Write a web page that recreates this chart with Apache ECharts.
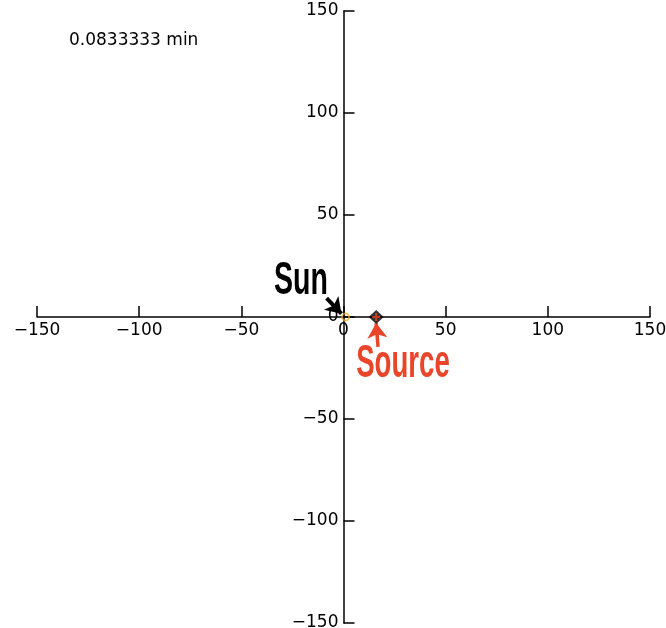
<!DOCTYPE html>
<html>
<head>
<meta charset="utf-8">
<script src="https://cdn.jsdelivr.net/npm/echarts@6/dist/echarts.min.js"></script>
<style>html,body{margin:0;padding:0;background:#fff}#c{width:666px;height:628px}</style>
</head>
<body>
<div id="c"></div>
<script>
var timeLabel = '0.0833333 min';
var sunPos = [1, 0];
var sourcePos = [16, 0];
var sunArrow = [[-8.3, 9.3], [-1.0, 1.6]];
var sourceArrow = [[16.9, -14.7], [16.0, -3.0]];
var sunLabelPos = [-20.8, 17.6];
var sourceLabelPos = [29.1, -23];
var axisMin = -150, axisMax = 150, axisStep = 50;

var gridL = 37, gridR = 16, gridT = 11, gridB = 5, W = 666, H = 628;
var gw = W - gridL - gridR, gh = H - gridT - gridB;
var zeroX = gridL + gw * (0 - axisMin) / (axisMax - axisMin);
var zeroY = gridT + gh * (axisMax - 0) / (axisMax - axisMin);

var chart = echarts.init(document.getElementById('c'));
function axisCommon() {
  return {
    type: 'value', min: axisMin, max: axisMax, interval: axisStep,
    axisLine: { onZero: false, lineStyle: { color: '#000', width: 1.5 } },
    axisTick: { inside: true, length: 11, lineStyle: { color: '#000', width: 1.5 } },
    axisLabel: { color: '#000', fontFamily: 'DejaVu Sans', fontSize: 17, margin: 5,
      formatter: function (v) { return v < 0 ? '\u2212' + Math.abs(v) : String(v); } },
    splitLine: { show: false }
  };
}
var xa = axisCommon(); xa.position = 'bottom'; xa.offset = -(H - gridB - zeroY);
var ya = axisCommon(); ya.position = 'left'; ya.offset = -(zeroX - gridL);
chart.setOption({
  animation: false,
  grid: { left: gridL, right: gridR, top: gridT, bottom: gridB, outerBoundsMode: 'none' },
  xAxis: xa,
  yAxis: ya,
  series: [
    { type: 'scatter', data: [sunPos], symbol: 'circle', symbolSize: 7,
      itemStyle: { color: 'rgba(0,0,0,0)', borderColor: '#f0a81c', borderWidth: 1.5 }, z: 5 },
    { type: 'scatter', data: [sourcePos], symbol: 'diamond', symbolSize: [15, 14],
      itemStyle: { color: '#000' }, z: 5 },
    { type: 'scatter', data: [sourcePos], symbol: 'path://M-1,-4L1,-4L1,-1L4,-1L4,1L1,1L1,4L-1,4L-1,1L-4,1L-4,-1L-1,-1Z', symbolSize: 8,
      itemStyle: { color: '#e8452a' }, z: 6 },
    { type: 'line', data: [], markLine: {
        silent: true, animation: false, symbol: ['none', 'arrow'], symbolSize: [15, 15],
        label: { show: false },
        data: [
          [{ coord: sunArrow[0], lineStyle: { color: '#000', width: 4, type: 'solid' }, itemStyle: { color: '#000' } }, { coord: sunArrow[1] }],
          [{ coord: sourceArrow[0], lineStyle: { color: '#e8452a', width: 3.5, type: 'solid' }, itemStyle: { color: '#e8452a' } }, { coord: sourceArrow[1] }]
        ] } }
  ]
});
var sp = chart.convertToPixel({ gridIndex: 0 }, sunLabelPos);
var op = chart.convertToPixel({ gridIndex: 0 }, sourceLabelPos);
chart.setOption({
  graphic: [
    { type: 'text', left: 69, top: 32, style: { text: timeLabel, fill: '#000', font: '17px "DejaVu Sans"' } },
    { type: 'text', x: sp[0], y: sp[1], scaleX: 0.62, style: { text: 'Sun', fill: '#000', font: 'bold 46px "Liberation Sans"', align: 'center', verticalAlign: 'middle' } },
    { type: 'text', x: op[0], y: op[1], scaleX: 0.6, style: { text: 'Source', fill: '#e8452a', font: 'bold 46px "Liberation Sans"', align: 'center', verticalAlign: 'middle' } }
  ]
});
</script>
</body>
</html>
